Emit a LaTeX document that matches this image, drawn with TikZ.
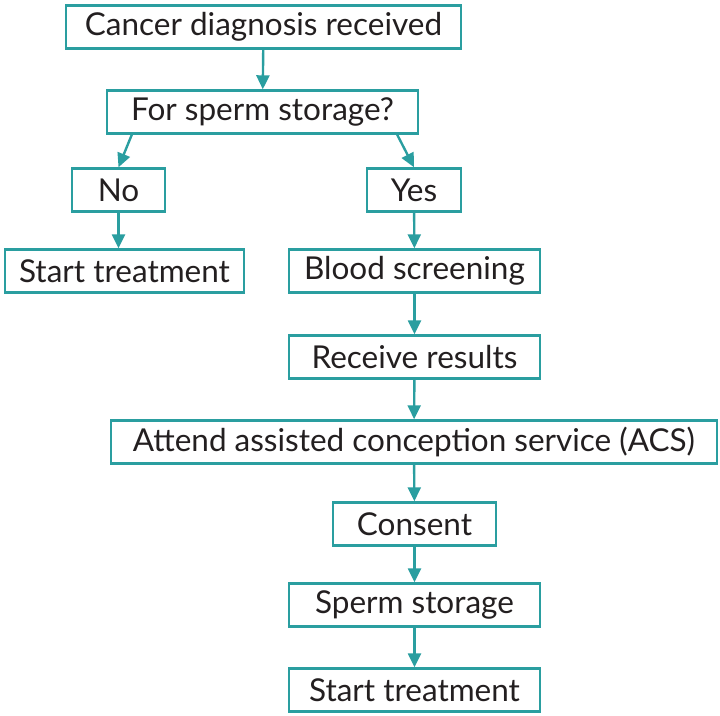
\documentclass[tikz,border=0pt]{standalone}
\usepackage{fontspec}
\setmainfont{Lato}
\usetikzlibrary{arrows.meta}
\definecolor{flowteal}{HTML}{2A9EA0}
\definecolor{flowtext}{HTML}{231F20}
\tikzset{
	box/.style={draw=flowteal,line width=2.4pt,rectangle,inner sep=0pt,minimum height=43pt,text=flowtext,font=\fontsize{31.5}{34}\selectfont},
	arr/.style={draw=flowteal,line width=2.4pt,-{Triangle[width=13pt,length=14pt]}}
}
\begin{document}
\begin{tikzpicture}[x=1pt,y=-1pt]
				\useasboundingbox (0,0) rectangle (720,715);
				\node[box,minimum width=395pt] (cancer) at (263.5,27) {Cancer diagnosis received};
				\node[box,minimum width=311pt] (storeq) at (262.5,112) {For sperm storage?};
				\node[box,minimum width=93pt] (no) at (118.5,190) {No};
				\node[box,minimum width=94pt] (yes) at (414,190) {Yes};
				\node[box,minimum width=239pt] (startno) at (124.5,271) {Start treatment};
				\node[box,minimum width=251pt] (blood) at (414.5,271) {Blood screening};
				\node[box,minimum width=251pt] (results) at (414.5,357) {Receive results};
				\node[box,minimum width=606pt] (acs) at (414,442) {Attend assisted conception service (ACS)};
				\node[box,minimum width=163pt] (consent) at (414.5,524) {Consent};
				\node[box,minimum width=251pt] (storage) at (414.5,605) {Sperm storage};
				\node[box,minimum width=251pt] (startyes) at (414.5,690) {Start treatment};

				\draw[arr] (cancer) -- (storeq);
				\draw[arr] ([xshift=26pt]storeq.south west) -- (no.north);
				\draw[arr] ([xshift=-22pt]storeq.south east) -- (yes.north);
				\draw[arr] (no) -- (no |- startno.north);
				\draw[arr] (yes) -- (blood);
				\draw[arr] (blood) -- (results);
				\draw[arr] (results) -- (acs);
				\draw[arr] (acs) -- (consent);
				\draw[arr] (consent) -- (storage);
				\draw[arr] (storage) -- (startyes);
			\end{tikzpicture}
\end{document}
